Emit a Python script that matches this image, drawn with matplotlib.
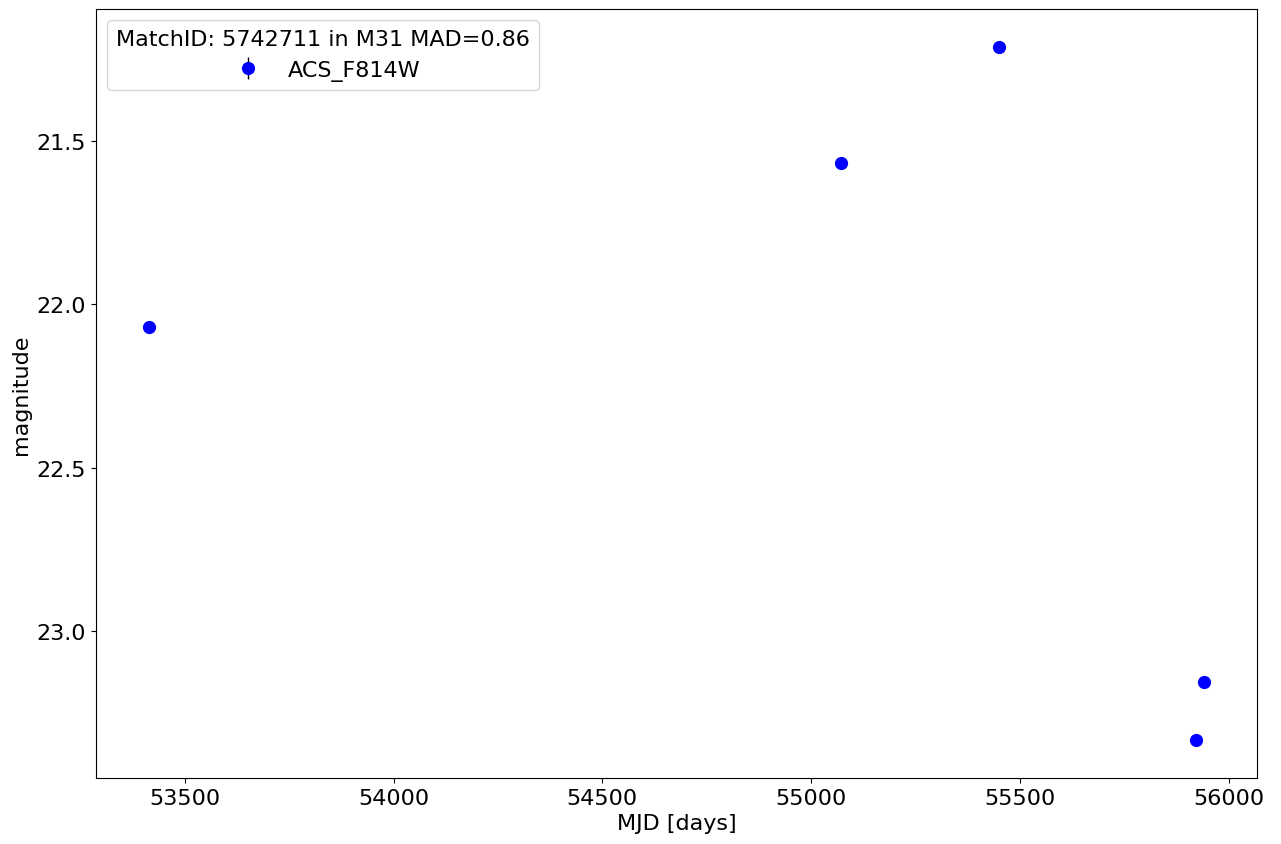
import matplotlib
matplotlib.use("Agg")
import matplotlib.pyplot as plt

mjd = [53414, 55072, 55449, 55922, 55941]
mag = [22.070, 21.567, 21.212, 23.334, 23.156]
magerr = [0.01, 0.01, 0.01, 0.01, 0.01]
filter_name = "ACS_F814W"
title = "MatchID: 5742711 in M31 MAD=0.86"

plt.rcParams['font.size'] = 16
fig = plt.figure(figsize=(12.81, 8.45), dpi=100)
ax = fig.add_axes([96/1281, 1-779/845, (1257-96)/1281, (779-10)/845])
ax.errorbar(mjd, mag, yerr=magerr, fmt='o', color='blue', ecolor='black',
            markersize=8.5, label=filter_name, elinewidth=1)
ax.invert_yaxis()
ax.set_xlabel("MJD [days]")
ax.set_ylabel("magnitude")
ax.legend(title=title, loc='upper left', fontsize=16, title_fontsize=16)
fig.savefig("out.png", dpi=100)
